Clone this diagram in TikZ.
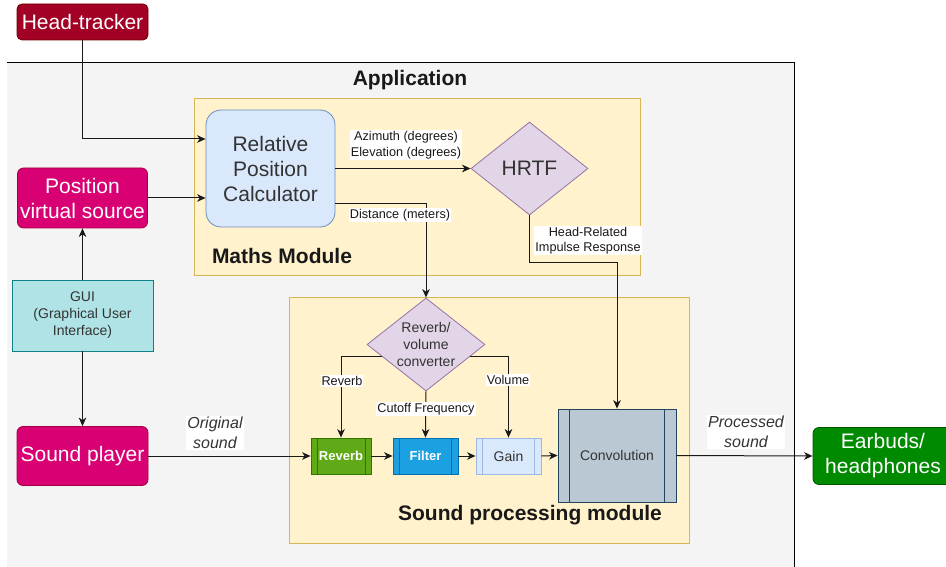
\documentclass[tikz,border=0pt]{standalone}
\usepackage{fontspec}
\setmainfont{Liberation Sans}
\usetikzlibrary{shapes.geometric,arrows.meta,calc}
\definecolor{appgray}{HTML}{F4F4F4}
\definecolor{modfill}{HTML}{FFF2CC}
\definecolor{moddraw}{HTML}{D6B656}
\definecolor{htfill}{HTML}{A20025}
\definecolor{htdraw}{HTML}{6F0000}
\definecolor{magfill}{HTML}{D80073}
\definecolor{magdraw}{HTML}{A50040}
\definecolor{grnfill}{HTML}{008A00}
\definecolor{grndraw}{HTML}{005700}
\definecolor{guifill}{HTML}{B0E3E6}
\definecolor{guidraw}{HTML}{0E8088}
\definecolor{bluefill}{HTML}{DAE8FC}
\definecolor{bluedraw}{HTML}{6C8EBF}
\definecolor{purfill}{HTML}{E1D5E7}
\definecolor{purdraw}{HTML}{9673A6}
\definecolor{rvfill}{HTML}{60A917}
\definecolor{rvdraw}{HTML}{2D7600}
\definecolor{flfill}{HTML}{1BA1E2}
\definecolor{fldraw}{HTML}{006EAF}
\definecolor{gndraw}{HTML}{9DB8E6}
\definecolor{cvfill}{HTML}{BAC8D3}
\definecolor{cvdraw}{HTML}{23445D}
\definecolor{txt}{HTML}{333333}
\begin{document}
\begin{tikzpicture}[x=1pt,y=-1pt,
  bigtxt/.style={font=\fontsize{21}{25}\selectfont},
  ext/.style={bigtxt, text=white, rounded corners=6pt, align=center, inner sep=0pt, line width=0.8pt},
  mod/.style={fill=modfill, draw=moddraw, line width=0.8pt, inner sep=0pt},
  title/.style={font=\fontsize{21}{25}\selectfont\bfseries, text=black!90},
  lbl/.style={font=\fontsize{12.7}{15}\selectfont, fill=white, inner sep=1pt, text=black!90, align=center},
  itl/.style={font=\fontsize{16}{20}\selectfont\itshape, fill=white, inner sep=1pt, text=txt, align=center},
  dia/.style={diamond, fill=purfill, draw=purdraw, line width=0.8pt, inner sep=0pt, text=txt, align=center},
  proc/.style={line width=0.8pt, inner sep=0pt, align=center,
    path picture={
      \draw[draw=#1, line width=0.8pt] ($(path picture bounding box.north west)!0.1!(path picture bounding box.north east)$) -- ($(path picture bounding box.south west)!0.1!(path picture bounding box.south east)$);
      \draw[draw=#1, line width=0.8pt] ($(path picture bounding box.north west)!0.9!(path picture bounding box.north east)$) -- ($(path picture bounding box.south west)!0.9!(path picture bounding box.south east)$);
    }},
  arr/.style={-{Stealth[length=8.5pt,width=7.5pt,inset=2.5pt]}, line width=1pt, draw=black!90}
]
\useasboundingbox (0,0) rectangle (946,567);
% application background
\fill[appgray] (7,63) rectangle (794,567);
\draw[line width=1pt] (7,63) -- (794,63) -- (794,567);
\node[title] (app) at (410,80) {Application};
% modules
\node[mod, minimum width=446pt, minimum height=177pt] (maths) at (417,186.5) {};
\node[mod, minimum width=400pt, minimum height=246pt] (spm) at (489,420) {};
\node[title] (mathst) at (282,256) {Maths Module};
\node[title] (spmt) at (530,515) {Sound processing module};
% external nodes
\node[ext, fill=htfill, draw=htdraw, rounded corners=5pt, minimum width=131pt, minimum height=36pt] (ht) at (82.5,22) {Head-tracker};
\node[ext, fill=magfill, draw=magdraw, minimum width=130pt, minimum height=60pt] (pvs) at (82.5,198) {Position\\virtual source};
\node[fill=guifill, draw=guidraw, line width=0.8pt, minimum width=141pt, minimum height=71pt, align=center, text=txt, font=\fontsize{14}{17}\selectfont, inner sep=0pt] (gui) at (82.5,315.5) {GUI\\(Graphical User\\Interface)};
\node[ext, fill=magfill, draw=magdraw, minimum width=131pt, minimum height=59pt] (sp) at (82.5,456) {Sound player};
\node[ext, fill=grnfill, draw=grndraw, minimum width=140pt, minimum height=57pt] (ear) at (883,456) {Earbuds/\\headphones};
% maths module nodes
\node[fill=bluefill, draw=bluedraw, line width=0.8pt, rounded corners=15pt, minimum width=129pt, minimum height=117pt, bigtxt, text=txt, align=center, inner sep=0pt] (rpc) at (270.5,168.5) {Relative\\Position\\Calculator};
\node[dia, minimum width=117pt, minimum height=93pt, bigtxt] (hrtf) at (529.5,168.5) {HRTF};
% sound processing nodes
\node[dia, aspect=1.27, minimum width=118pt, minimum height=93pt, font=\fontsize{14}{17}\selectfont] (rvc) at (426,344.5) {Reverb/\\volume\\converter};
\node[proc=rvdraw, fill=rvfill, draw=rvdraw, minimum width=60pt, minimum height=36pt, text=white, font=\fontsize{13}{15}\selectfont\bfseries] (rv) at (341,456) {Reverb};
\node[proc=fldraw, fill=flfill, draw=fldraw, minimum width=65pt, minimum height=36pt, text=white, font=\fontsize{13}{15}\selectfont\bfseries] (fl) at (425.5,456) {Filter};
\node[proc=gndraw, fill=bluefill, draw=gndraw, minimum width=65pt, minimum height=36pt, text=txt, font=\fontsize{14}{16}\selectfont] (gn) at (508.5,456) {Gain};
\node[proc=cvdraw, fill=cvfill, draw=cvdraw, minimum width=118pt, minimum height=93pt, text=txt, font=\fontsize{14}{16}\selectfont] (cv) at (617,455.5) {Convolution};
% connectors
\draw[arr] (ht.south) |- ([yshift=29.5pt]rpc.west);
\draw[arr] (pvs.east) -- (pvs.east -| rpc.west);
\draw[arr] (gui.north) -- (pvs.south);
\draw[arr] (gui.south) -- (sp.north);
\draw[arr] (sp.east) -- (rv.west);
\draw[arr] (rpc.east) -- (hrtf.west);
\draw[arr] ([yshift=-35.5pt]rpc.east) -| (rvc.north);
\draw[arr] (hrtf.south) -- ++(0,47) -| (cv.north);
\draw[arr] (rvc.195) -| (rv.north);
\draw[arr] (rvc.-15) -| (gn.north);
\draw[arr] (rvc.south) -- (fl.north);
\draw[arr] (rv.east) -- (fl.west);
\draw[arr] (fl.east) -- (gn.west);
\draw[arr] (gn.east) -- (cv.west);
\draw[arr] (cv.east) -- (ear.west);
% labels
\node[lbl, font=\fontsize{12.7}{16}\selectfont] (lazel) at (406,145) {Azimuth (degrees)\\Elevation (degrees)};
\node[lbl] (ldist) at (400,215) {Distance (meters)};
\node[lbl] (lhrir) at (588,240.5) {Head-Related\\Impulse Response};
\node[lbl] (lrev) at (342,381) {Reverb};
\node[lbl] (lvol) at (508,380) {Volume};
\node[lbl] (lcut) at (426,409) {Cutoff Frequency};
\node[itl] (lorig) at (215,433) {Original\\sound};
\node[itl] (lproc) at (746,432) {Processed\\sound};
\end{tikzpicture}
\end{document}
